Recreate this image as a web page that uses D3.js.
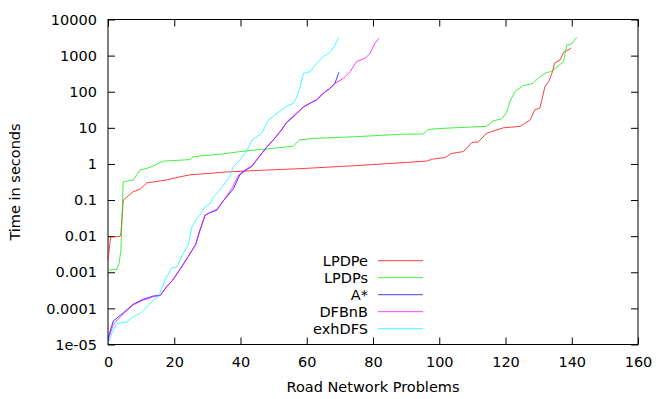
<!DOCTYPE html>
<html>
<head>
<meta charset="utf-8">
<script src="https://cdn.jsdelivr.net/npm/d3@7"></script>
<style>
  body { margin: 0; background: #fff; }
  svg text { font-family: "DejaVu Sans", sans-serif; font-size: 14.5px; fill: #000; }
  .axis path.domain { display: none; }
  .axis line { stroke: #000; }
</style>
</head>
<body>
<div id="chart"></div>
<script>
// sorted run times per solver: [problem index, seconds]
var lpdpe = [[0,0.0022],[0.8,0.0095],[3.6,0.0098],[3.9,0.012],[4.6,0.1],[7.6,0.17],[9.7,0.2],[11.7,0.3],[14,0.32],[17.7,0.36],[21.7,0.44],[24.8,0.5],[30.8,0.55],[35.8,0.6],[45,0.66],[58,0.74],[75,0.9],[90,1.1],[96.2,1.2],[97.7,1.35],[101.7,1.5],[103.7,1.95],[107.3,2.2],[109.8,3.9],[111.8,4.1],[114.3,7.1],[119.3,10],[124.4,11],[127.4,16.5],[128.9,32],[130.4,35],[131.9,138],[133,190],[134.2,360],[134.8,620],[136.5,760],[137.5,1230],[139.8,1590]];
var lpdps = [[0,0.00115],[2.6,0.0012],[3.3,0.0017],[3.9,0.004],[4.6,0.32],[7.6,0.36],[9.7,0.68],[11.7,0.75],[13.2,0.85],[16.7,1.2],[24.8,1.32],[25.8,1.6],[34.8,1.9],[39.8,2.2],[52.9,2.9],[55.9,3.1],[57.8,4.6],[62,5.1],[75,5.7],[88.1,6.6],[95.2,6.8],[96.7,9],[100.2,9.6],[114.3,11],[116.3,15.6],[118.8,17.7],[120.3,26.4],[121.3,52],[122.8,100],[125.3,147],[128.3,170],[129.8,235],[132.3,340],[133.8,360],[137.5,680],[138.5,1960],[139.9,2100],[141.5,3200]];
var astar = [[0,1.5e-5],[1.6,4.5e-5],[4.6,7.5e-5],[7.6,1.3e-4],[10.7,1.8e-4],[13.7,2.2e-4],[15.8,2.3e-4],[17.7,4e-4],[19.5,6e-4],[21.7,1.2e-3],[24.2,2.7e-3],[26.5,6e-3],[27.8,0.015],[29.3,0.038],[30.8,0.045],[32.8,0.052],[35,0.1],[37.8,0.2],[39.8,0.5],[41.3,0.65],[43.4,0.85],[44.9,1.3],[47.9,2.9],[49.9,4.6],[52.4,8.8],[53.9,14],[55.9,20],[57,25],[59,38],[61,48],[63,60],[65,90],[67,124],[68.5,170],[69.7,345]];
var dfbnb = [[0,1.3e-5],[1.6,3.6e-5],[4.6,7e-5],[7.6,1.25e-4],[10.7,1.7e-4],[13.7,2.1e-4],[15.8,2.3e-4],[17.7,4e-4],[19.5,6e-4],[21.7,1.2e-3],[24.2,2.7e-3],[26.5,6e-3],[27.8,0.015],[29.3,0.038],[30.8,0.045],[32.8,0.055],[35,0.1],[37.5,0.22],[39.5,0.5],[41.3,0.68],[43.4,0.88],[44.9,1.3],[47.9,2.9],[49.9,4.6],[52.4,8.8],[53.9,14],[55.9,21],[57,26],[59,38],[61,48],[63,60],[65,90],[67,124],[68.5,170],[71.1,235],[73.1,360],[75,680],[77.6,840],[79.1,1150],[80.6,2200],[81.8,3000]];
var exhdfs = [[0,1.07e-5],[1.1,2e-5],[2.6,3.8e-5],[5.6,4.2e-5],[7.6,5.9e-5],[9.7,7.2e-5],[11.7,1.1e-4],[13.7,1.7e-4],[15.2,2.1e-4],[16.2,3.5e-4],[17.7,7.6e-4],[19.2,1.3e-3],[20.8,1.4e-3],[22.7,3.3e-3],[24.2,5.6e-3],[25.3,0.018],[26.8,0.031],[27.8,0.038],[29.3,0.065],[30.8,0.08],[31.8,0.12],[33.8,0.19],[36.8,0.45],[37.8,0.84],[39.8,1.28],[41.9,2.3],[43.5,4.6],[46.4,7.1],[48.5,16.5],[51,25],[54,40],[56,48],[57,72],[58,138],[59,320],[61,360],[63,610],[65,930],[67.2,1280],[68.5,1960],[69.7,3200]];

var series = [
  {name: "LPDPe", color: "#ff0000", data: lpdpe},
  {name: "LPDPs", color: "#00ee00", data: lpdps},
  {name: "A*", color: "#0000ff", data: astar},
  {name: "DFBnB", color: "#ff00ff", data: dfbnb},
  {name: "exhDFS", color: "#00ffff", data: exhdfs}
];

var xTicks = [0, 20, 40, 60, 80, 100, 120, 140, 160];
var yTicks = [1e-5, 1e-4, 1e-3, 1e-2, 0.1, 1, 10, 100, 1000, 10000];
var yTickLabels = ["1e-05", "0.0001", "0.001", "0.01", "0.1", "1", "10", "100", "1000", "10000"];

var W = 664, H = 399;
var margin = {top: 19.5, right: 26, bottom: 54.5, left: 108};
var width = W - margin.left - margin.right;
var height = H - margin.top - margin.bottom;

var svg = d3.select("#chart").append("svg")
    .attr("width", W)
    .attr("height", H);

var g = svg.append("g")
    .attr("transform", "translate(" + margin.left + "," + margin.top + ")");

// Scales
var xScale = d3.scaleLinear().domain([0, 160]).range([0, width]);
var yScale = d3.scaleLog().domain([1e-5, 1e4]).range([height, 0]);

// Axes (ticks point inward, mirrored on top and right)
g.append("g")
    .attr("class", "axis")
    .attr("transform", "translate(0," + height + ")")
    .call(d3.axisBottom(xScale).tickValues(xTicks).tickSize(-7).tickSizeOuter(0).tickPadding(12));

g.append("g")
    .attr("class", "axis")
    .call(d3.axisTop(xScale).tickValues(xTicks).tickSize(-7).tickSizeOuter(0).tickFormat(""));

g.append("g")
    .attr("class", "axis")
    .call(d3.axisLeft(yScale).tickValues(yTicks).tickSize(-7).tickSizeOuter(0).tickPadding(11)
        .tickFormat(function (d, i) { return yTickLabels[i]; }));

g.append("g")
    .attr("class", "axis")
    .attr("transform", "translate(" + width + ",0)")
    .call(d3.axisRight(yScale).tickValues(yTicks).tickSize(-7).tickSizeOuter(0).tickFormat(""));

g.selectAll(".axis text").style("font-size", "14.5px").style("font-family", "DejaVu Sans");

// Border
g.append("rect")
    .attr("width", width)
    .attr("height", height)
    .attr("fill", "none")
    .attr("stroke", "#000")
    .attr("stroke-width", 1);

// Lines
var linefunc = d3.line()
    .x(function (d) { return xScale(d[0]); })
    .y(function (d) { return yScale(d[1]); });

series.forEach(function (s) {
    g.append("path")
        .datum(s.data)
        .attr("fill", "none")
        .attr("stroke", s.color)
        .attr("stroke-width", 1)
        .attr("stroke-opacity", 0.75)
        .attr("d", linefunc);
});

// Legend
var legend = svg.append("g").attr("transform", "translate(368,260.7)");
series.forEach(function (s, i) {
    legend.append("text")
        .attr("x", 0)
        .attr("y", i * 17)
        .attr("dy", "0.35em")
        .attr("text-anchor", "end")
        .text(s.name);
    legend.append("line")
        .attr("x1", 10).attr("x2", 55)
        .attr("y1", i * 17).attr("y2", i * 17)
        .attr("stroke", s.color)
        .attr("stroke-opacity", 0.75)
        .attr("stroke-width", 1);
});

// Axis titles
svg.append("text")
    .attr("x", margin.left + width / 2)
    .attr("y", 392)
    .attr("text-anchor", "middle")
    .text("Road Network Problems");

svg.append("text")
    .attr("transform", "translate(20," + (margin.top + height / 2) + ") rotate(-90)")
    .attr("text-anchor", "middle")
    .text("Time in seconds");
</script>
</body>
</html>
